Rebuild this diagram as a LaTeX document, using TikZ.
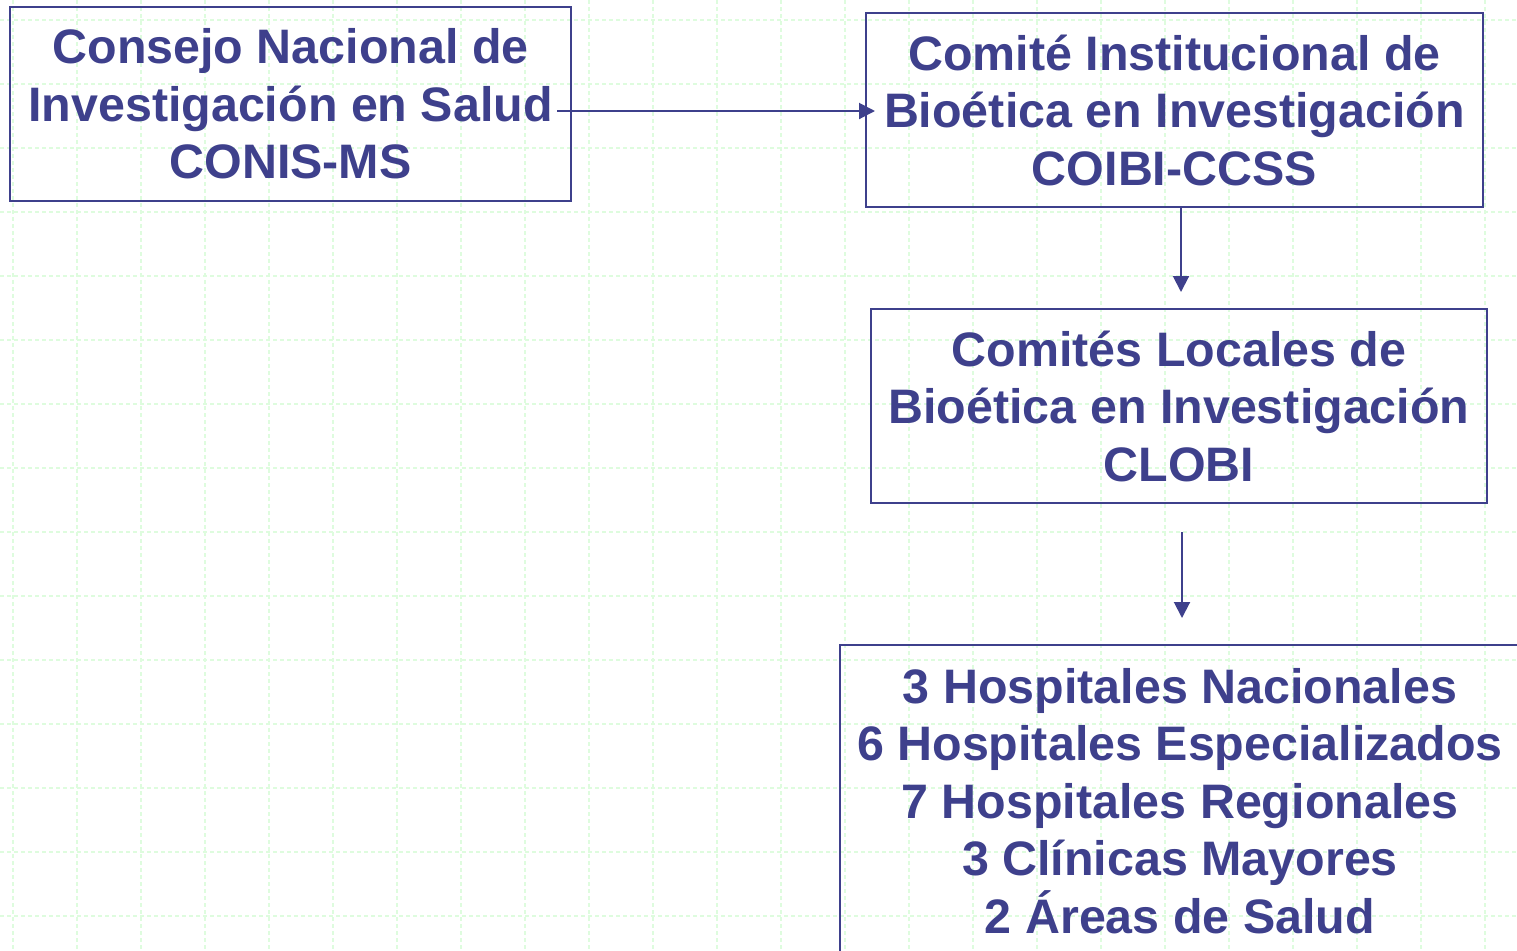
\documentclass[tikz,border=0pt]{standalone}
\usepackage{fontspec}
\setmainfont{Liberation Sans}
\usetikzlibrary{positioning, arrows.meta, calc}

\definecolor{inkblue}{RGB}{62,64,140}
\definecolor{gridgreen}{RGB}{222,252,222}

\begin{document}
\begin{tikzpicture}[x=0.5pt, y=-0.5pt,
        box/.style={draw=inkblue, line width=1pt, align=center, text=inkblue,
            font=\fontsize{24.2pt}{28.75pt}\selectfont\bfseries, inner sep=0pt},
        link/.style={draw=inkblue, line width=1pt, -{Triangle[length=8pt, width=8pt]}}]
        \useasboundingbox (0,0) rectangle (1517,950);
        \clip (0,0) rectangle (1517,950);

        % background grid
        \foreach \gx in {13,77,...,1517}
            \draw[gridgreen, line width=0.8pt, dash pattern=on 2pt off 1.5pt] (\gx,0) -- (\gx,950);
        \foreach \gy in {20,84,...,950}
            \draw[gridgreen, line width=0.8pt, dash pattern=on 2pt off 1.5pt] (0,\gy) -- (1517,\gy);

        \node[box, minimum width=280.5pt, minimum height=97pt] (conis) at (290.5,104)
            {Consejo Nacional de\\Investigación en Salud\\CONIS-MS};
        \node[box, minimum width=308.5pt, minimum height=97pt] (coibi) at (1174.5,110)
            {Comité Institucional de\\Bioética en Investigación\\COIBI-CCSS};
        \node[box, minimum width=308pt, minimum height=97pt] (clobi) at (1179,406)
            {Comités Locales de\\Bioética en Investigación\\CLOBI};
        \node[box, minimum width=340pt, minimum height=156pt] (centros) at (1180,801)
            {3 Hospitales Nacionales\\6 Hospitales Especializados\\7 Hospitales Regionales\\3 Clínicas Mayores\\2 Áreas de Salud};

        \coordinate (a1) at (557,111);
        \coordinate (a2) at (1181,292);
        \coordinate (a3s) at (1182,532);
        \coordinate (a3e) at (1182,618);

        \draw[link] (a1) -- ($(coibi.west |- a1)+(10,0)$);
        \draw[link] (coibi.south -| a2) -- (a2);
        \draw[link] (a3s) -- (a3e);
    \end{tikzpicture}
\end{document}
